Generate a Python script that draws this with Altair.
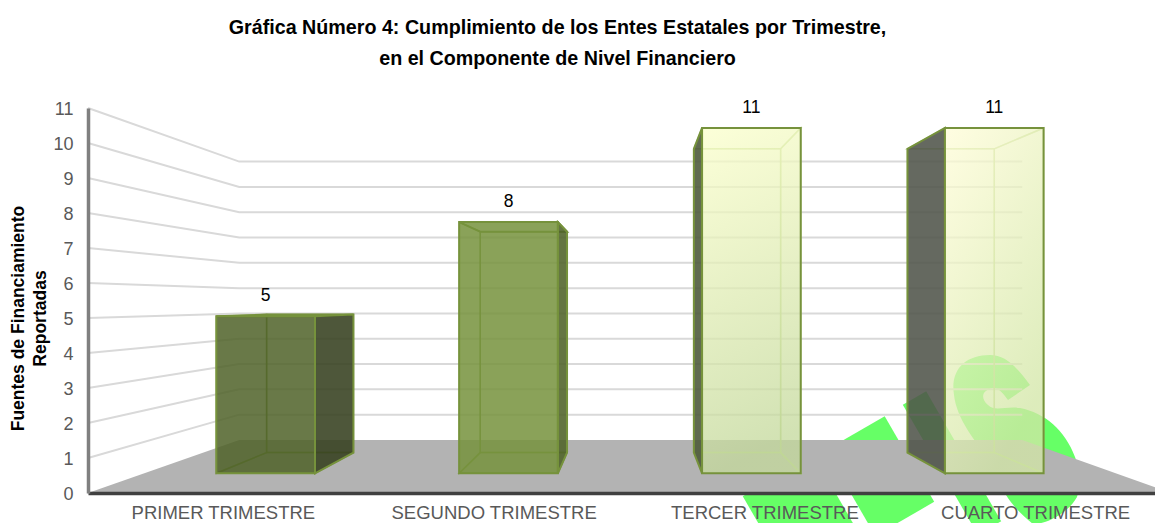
import altair as alt
import pandas as pd

# ---- chart content
categories = ["PRIMER TRIMESTRE", "SEGUNDO TRIMESTRE", "TERCER TRIMESTRE", "CUARTO TRIMESTRE"]
values = [5, 8, 11, 11]
grid_values = [1, 2, 3, 4, 5, 6, 7, 8, 9, 10, 11]
title_lines = ["Gráfica Número 4: Cumplimiento de los Entes Estatales por Trimestre,",
               "en el Componente de Nivel Financiero"]
y_title = ["Fuentes de Financiamiento", "Reportadas"]

# ---- perspective of the 3D scene: x in screen-width units, y in value units
X0, X1 = 88, 1171
VX, VY = 634, 5.47
S_FRONT, S_BACK, S_WALL = 0.897, 0.789, 0.723
HALF = 55
band = (X1 - X0) / len(categories)
centers = [X0 + (i + 0.5) * band for i in range(len(categories))]

front_fill = ["#4f6228", "#76923c", None, None]
side_fill = ["#35401f", "#4f6228", "#4a5738", "#50544a"]
side_visible = ["right", "right", "left", "left"]
inner_line = ["#76923c", "#76923c", "#b4d080", "#b4d080"]
LINE = "#76923c"
FONT = "Liberation Sans"
WM = "#66ff66"

def gradient(x2, y2, c0, c1):
    return alt.Gradient(gradient="linear", x1=0, y1=0, x2=x2, y2=y2,
                        stops=[alt.GradientStop(color=c0, offset=0), alt.GradientStop(color=c1, offset=1)])

grads = [None, None, gradient(0.15, 1, "#fbffcc", "#c4d99c"), gradient(0.5, 1, "#fffdd8", "#d2e6a6")]

def px(X, s):
    return VX + (X - VX) * s

def py(v, s):
    return VY + (v - VY) * s

xs = alt.Scale(domain=[88, 1155], nice=False, zero=False)
ys = alt.Scale(domain=[0, 11], nice=False, zero=False)
x_axis = alt.Axis(labels=False, ticks=False, title=None, grid=False, domainColor="#404040", domainWidth=3.5, zindex=1)
y_axis = alt.Axis(values=list(range(12)), tickSize=0, grid=False, domainColor="#808080", domainWidth=3.5, zindex=1,
                  labelFont=FONT, labelFontSize=18, labelColor="#595959", labelPadding=15, labelOffset=1.5,
                  title=y_title, titleFont=FONT, titleFontSize=17.5, titleFontWeight="bold", titleColor="#000000",
                  titleX=-61, titleY=210, titleLineHeight=22)
X = lambda f: alt.X(f, type="quantitative", scale=xs, axis=x_axis, stack=None)
Y = lambda f: alt.Y(f, type="quantitative", scale=ys, axis=y_axis, stack=None)

layers = []

# watermark pieces behind the scene (glyph shapes, in px relative to a 100-px symbol box)
def wm_rect(cx, cy, w, h):
    a, b = w / 100, h / 100
    path = f"M{-a},{-b}L{a},{-b}L{a},{b}L{-a},{b}Z"
    d = pd.DataFrame({"x": [cx], "y": [(493 - cy) / 35]})
    return alt.Chart(d).mark_point(shape=path, size=10000, angle=330, filled=True, opacity=1, color=WM).encode(x=X("x"), y=Y("y"))

layers.append(wm_rect(809, 529, 82, 123))
layers.append(wm_rect(880, 476, 68, 99))
layers.append(wm_rect(952, 463, 27, 150))

S_PTS = ("M1030,385 C1015,365 1005,355 990,355 C965,355 950,370 954,395 C957,420 975,440 990,462 "
         "C1000,478 1006,490 1006,495 C1012,505 1022,515 1033,524 C1050,524 1070,510 1077,497 "
         "C1082,480 1080,470 1075,457 C1065,430 1045,413 1020,408 C1005,406 995,412 988,405 "
         "C980,398 982,390 993,388 C1000,388 1004,395 1008,400 Z")

def rel_path(s, cx, cy):
    out = []
    for tok in s.split():
        cmd = tok[0] if tok[0].isalpha() else ""
        if cmd == "Z":
            out.append("Z")
            continue
        a, b = tok.lstrip("MCL").split(",")
        out.append(f"{cmd}{(float(a) - cx) / 50:.3f},{(float(b) - cy) / 50:.3f}")
    return " ".join(out)

layers.append(alt.Chart(pd.DataFrame({"x": [1015], "y": [(493 - 440) / 35]})).mark_point(
    shape=rel_path(S_PTS, 1015, 440), size=10000, filled=True, opacity=1, color=WM).encode(x=X("x"), y=Y("y")))

# back wall + left wall grid
grid = pd.DataFrame([
    {"v": v, "o": i, "x": x, "y": y}
    for v in grid_values
    for i, (x, y) in enumerate([(X0, v), (px(X0, S_WALL), py(v, S_WALL)), (px(X1, S_WALL), py(v, S_WALL))])
])
layers.append(alt.Chart(grid).mark_line(color="#d9d9d9", strokeWidth=2).encode(
    x=X("x"), y=Y("y"), detail="v:N", order="o:Q"))

# floor
floor = pd.DataFrame({"y": [0, py(0, S_WALL)], "x": [X0, px(X0, S_WALL)], "x2": [X1, px(X1, S_WALL)]})
layers.append(alt.Chart(floor).mark_area(orient="horizontal", color="#b3b3b3", clip=True).encode(
    y=Y("y"), x=X("x"), x2="x2"))

# 3D bars
for i, v in enumerate(values):
    l, r = centers[i] - HALF, centers[i] + HALF
    fl, fr, bl, br = px(l, S_FRONT), px(r, S_FRONT), px(l, S_BACK), px(r, S_BACK)
    ft, fb, bt, bb = py(v, S_FRONT), py(0, S_FRONT), py(v, S_BACK), py(0, S_BACK)
    inner = dict(stroke=inner_line[i], strokeWidth=1.5, strokeOpacity=0.7)
    outer = dict(stroke=LINE, strokeWidth=2)
    # hidden back edges
    layers.append(alt.Chart(pd.DataFrame([{"x": bl, "x2": br, "y": bb, "y2": bt}])).mark_rect(fillOpacity=0, **inner).encode(
        x=X("x"), x2="x2", y=Y("y"), y2="y2"))
    # floor-side and top faces
    layers.append(alt.Chart(pd.DataFrame({"y": [fb, bb], "x": [fl, bl], "x2": [fr, br]})).mark_area(orient="horizontal", fillOpacity=0, **inner).encode(
        y=Y("y"), x=X("x"), x2="x2"))
    top_kw = dict(fill=front_fill[i], fillOpacity=0.85, **outer) if bt > ft else dict(fillOpacity=0, **(outer if i < 2 else inner))
    layers.append(alt.Chart(pd.DataFrame({"y": [ft, bt], "x": [fl, bl], "x2": [fr, br]})).mark_area(orient="horizontal", **top_kw).encode(
        y=Y("y"), x=X("x"), x2="x2"))
    # side faces
    for side, (f, b) in {"left": (fl, bl), "right": (fr, br)}.items():
        d = pd.DataFrame({"x": [f, b], "y": [ft, bt], "y2": [fb, bb]})
        if side == side_visible[i]:
            kw = dict(fill=side_fill[i], fillOpacity=0.88, **outer)
        else:
            kw = dict(fillOpacity=0, **inner)
        layers.append(alt.Chart(d).mark_area(**kw).encode(x=X("x"), y=Y("y"), y2="y2"))
    # front face
    fk = dict(fill=grads[i], fillOpacity=0.76) if grads[i] is not None else dict(fill=front_fill[i], fillOpacity=0.85)
    layers.append(alt.Chart(pd.DataFrame([{"x": fl, "x2": fr, "y": fb, "y2": ft}])).mark_rect(**outer, **fk).encode(
        x=X("x"), x2="x2", y=Y("y"), y2="y2"))

# value labels
vals = pd.DataFrame({"x": [px(c, S_FRONT) for c in centers], "y": [py(v, S_FRONT) for v in values], "t": [str(v) for v in values]})
layers.append(alt.Chart(vals).mark_text(font=FONT, fontSize=17.5, color="#000000", dy=-20, baseline="middle").encode(
    x=X("x"), y=Y("y"), text="t:N"))

# category labels
cats = pd.DataFrame({"x": centers, "y": [0] * 4, "t": categories})
layers.append(alt.Chart(cats).mark_text(font=FONT, fontSize=18.5, color="#595959", dy=20, baseline="middle").encode(
    x=X("x"), y=Y("y"), text="t:N"))

chart = alt.layer(*layers).properties(
    width=1067, height=385,
    padding={"left": 80, "top": 100, "right": 0, "bottom": 30},
    autosize=alt.AutoSizeParams(type="none"),
    title=alt.TitleParams(text=title_lines, font=FONT, fontSize=19.7, fontWeight="bold", color="#000000",
                          anchor="middle", dx=-64, offset=30, lineHeight=31),
).configure_view(stroke=None)

chart.save("out.html", embed_options={"renderer": "svg", "actions": False})
